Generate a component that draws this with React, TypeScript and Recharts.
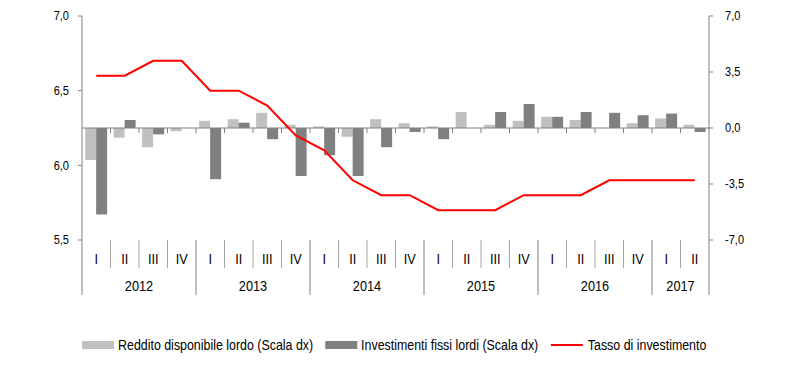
import React from 'react';
import { ComposedChart, Bar, Line, XAxis, YAxis, ReferenceLine, Legend } from 'recharts';

const quarters = ['I', 'II', 'III', 'IV', 'I', 'II', 'III', 'IV', 'I', 'II', 'III', 'IV', 'I', 'II', 'III', 'IV', 'I', 'II', 'III', 'IV', 'I', 'II'];
const years = ['2012', '2012', '2012', '2012', '2013', '2013', '2013', '2013', '2014', '2014', '2014', '2014', '2015', '2015', '2015', '2015', '2016', '2016', '2016', '2016', '2017', '2017'];
const reddito = [-2.0, -0.6, -1.2, -0.2, 0.45, 0.55, 0.95, 0.2, 0.1, -0.55, 0.55, 0.3, 0.1, 1.0, 0.2, 0.45, 0.7, 0.5, 0.0, 0.3, 0.6, 0.2];
const investimenti = [-5.4, 0.5, -0.4, 0.0, -3.2, 0.33, -0.7, -3.0, -1.7, -3.0, -1.2, -0.25, -0.7, 0.0, 1.0, 1.5, 0.7, 1.0, 0.95, 0.8, 0.9, -0.25];
const tasso = [6.6, 6.6, 6.7, 6.7, 6.5, 6.5, 6.4, 6.2, 6.1, 5.9, 5.8, 5.8, 5.7, 5.7, 5.7, 5.8, 5.8, 5.8, 5.9, 5.9, 5.9, 5.9];
const leftTicks = [5.5, 6.0, 6.5, 7.0];
const rightTicks = [-7.0, -3.5, 0.0, 3.5, 7.0];

const data = quarters.map((q, i) => ({
  key: `${years[i]}-${q}`,
  q,
  year: years[i],
  reddito: reddito[i],
  investimenti: investimenti[i],
  tasso: tasso[i],
}));

const N = quarters.length;
const W = 788;
const H = 383;
const LEFT_W = 82;
const RIGHT_W = 79;
const BW = (W - LEFT_W - RIGHT_W) / N;
const FONT = '"Liberation Sans", Arial, sans-serif';
const AXIS = '#808080';
const SEP = '#a6a6a6';
const LIGHT = '#c0c0c0';
const DARK = '#808080';
const RED = '#ff0000';
const SX = 0.85;
const LSX = 0.8;

const fmt = (v: number) => v.toFixed(1).replace('.', ',');

const NarrowText = ({ x, y, anchor, size, sx, children }: any) => (
  <text
    transform={`translate(${x} ${y}) scale(${sx} 1)`}
    x={0}
    y={0}
    textAnchor={anchor}
    dominantBaseline="central"
    fontSize={size}
    fill="#000"
    fontFamily={FONT}
  >
    {children}
  </text>
);

const YTick = (props: any) => {
  const { x, y, payload, textAnchor } = props;
  return (
    <NarrowText x={x} y={y} anchor={textAnchor} size={13} sx={SX}>
      {fmt(payload.value)}
    </NarrowText>
  );
};

const QuarterTick = (props: any) => {
  const { x, y, payload } = props;
  const i = payload.index;
  const q = quarters[i];
  const left = x - BW / 2;
  const right = x + BW / 2;
  const firstOfYear = i === 0 || years[i] !== years[i - 1];
  const last = i === N - 1;
  let yearLabel = null;
  if (firstOfYear) {
    let k = 0;
    while (i + k < N && years[i + k] === years[i]) k++;
    yearLabel = (
      <NarrowText x={left + (k * BW) / 2} y={y + 46} anchor="middle" size={15} sx={SX}>
        {years[i]}
      </NarrowText>
    );
  }
  return (
    <g>
      <line x1={left} x2={left} y1={y} y2={y + (firstOfYear ? 55 : 28)} stroke={firstOfYear ? AXIS : SEP} strokeWidth={1} />
      {last && <line x1={right} x2={right} y1={y} y2={y + 55} stroke={AXIS} strokeWidth={1} />}
      <NarrowText x={x} y={y + 18.5} anchor="middle" size={15} sx={SX}>
        {q}
      </NarrowText>
      {yearLabel}
    </g>
  );
};

const ZeroLine = (props: any) => {
  const { x1, y1, x2, y2 } = props;
  const bw = (x2 - x1) / N;
  return (
    <g>
      <line x1={x1} x2={x2} y1={y1} y2={y2} stroke={AXIS} strokeWidth={1} />
      {quarters.slice(1).map((_, k) => (
        <line key={k} x1={x1 + (k + 1) * bw} x2={x1 + (k + 1) * bw} y1={y1} y2={y1 + 5} stroke={AXIS} strokeWidth={1} />
      ))}
    </g>
  );
};

const LegendContent = () => (
  <div style={{ width: W, display: 'flex', justifyContent: 'center' }}>
    <div
      style={{
        display: 'flex',
        alignItems: 'center',
        fontFamily: FONT,
        fontSize: 15.5,
        color: '#000',
        whiteSpace: 'nowrap',
        transform: `scaleX(${LSX})`,
        transformOrigin: 'center',
      }}
    >
      <span style={{ display: 'inline-block', width: 40, height: 8, background: LIGHT, marginRight: 5 }} />
      <span style={{ marginRight: 15 }}>Reddito disponibile lordo (Scala dx)</span>
      <span style={{ display: 'inline-block', width: 40, height: 8, background: DARK, marginRight: 5 }} />
      <span style={{ marginRight: 16 }}>Investimenti fissi lordi (Scala dx)</span>
      <span style={{ display: 'inline-block', width: 40, height: 2, background: RED, marginRight: 6 }} />
      <span>Tasso di investimento</span>
    </div>
  </div>
);

export default function App() {
  return (
    <div style={{ position: 'absolute', left: 0, top: 0, width: W, height: H, background: '#fff' }}>
      <ComposedChart width={W} height={H} data={data} margin={{ top: 16, right: 0, bottom: 87, left: 0 }} barCategoryGap="11%" barGap={0}>
        <XAxis
          dataKey="key"
          xAxisId="x"
          height={56}
          interval={0}
          tickLine={false}
          axisLine={false}
          tickSize={0}
          tickMargin={0}
          tick={<QuarterTick />}
        />
        <YAxis
          yAxisId="left"
          orientation="left"
          width={LEFT_W}
          domain={[5.5, 7.0]}
          ticks={leftTicks}
          axisLine={{ stroke: AXIS }}
          tickLine={{ stroke: AXIS }}
          tickSize={4}
          tickMargin={9}
          tick={<YTick />}
          allowDataOverflow
        />
        <YAxis
          yAxisId="right"
          orientation="right"
          width={RIGHT_W}
          domain={[-7, 7]}
          ticks={rightTicks}
          axisLine={{ stroke: AXIS }}
          tickLine={{ stroke: AXIS }}
          tickSize={4}
          tickMargin={12}
          tick={<YTick />}
          allowDataOverflow
        />
        <ReferenceLine yAxisId="right" xAxisId="x" y={0} shape={<ZeroLine />} />
        <Bar xAxisId="x" yAxisId="right" dataKey="reddito" name="Reddito disponibile lordo (Scala dx)" fill={LIGHT} isAnimationActive={false} />
        <Bar xAxisId="x" yAxisId="right" dataKey="investimenti" name="Investimenti fissi lordi (Scala dx)" fill={DARK} isAnimationActive={false} />
        <Line xAxisId="x" yAxisId="left" type="linear" dataKey="tasso" name="Tasso di investimento" stroke={RED} strokeWidth={2} dot={false} activeDot={false} isAnimationActive={false} />
        <Legend layout="horizontal" verticalAlign="middle" align="center" wrapperStyle={{ top: 336, left: 0, width: W }} content={<LegendContent />} />
      </ComposedChart>
    </div>
  );
}
